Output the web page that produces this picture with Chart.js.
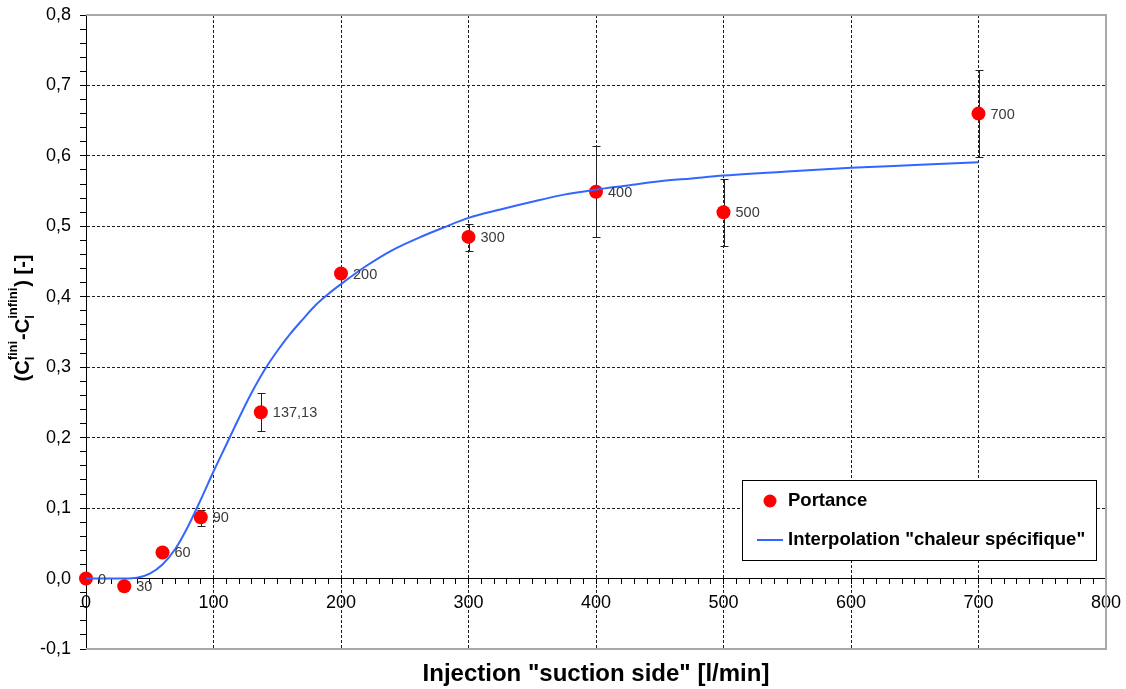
<!DOCTYPE html>
<html>
<head>
<meta charset="utf-8">
<title>Portance vs injection</title>
<script src="https://cdn.jsdelivr.net/npm/chart.js@4.4.1/dist/chart.umd.min.js"></script>
<style>
  html, body { margin: 0; padding: 0; background: #ffffff; }
  #wrap { width: 1126px; height: 689px; position: relative; }
</style>
</head>
<body>
<div id="wrap"><canvas id="c" width="1126" height="689"></canvas></div>
<script>
// Measured lift increment vs. suction-side injection flow
const injection   = [0, 30, 60, 90, 137.13, 200, 300, 400, 500, 700];
const portance    = [0.0, -0.011, 0.037, 0.087, 0.236, 0.433, 0.485, 0.549, 0.520, 0.660];
const errLow      = [null, null, null, 0.075, 0.210, null, 0.465, 0.485, 0.472, 0.598];
const errHigh     = [null, null, null, 0.098, 0.263, null, 0.504, 0.614, 0.567, 0.722];
const pointLabels = ['0', '30', '60', '90', '137,13', '200', '300', '400', '500', '700'];

// "Specific heat" style interpolation curve
const interpX = [0, 10, 20, 30, 40, 50, 60, 70, 80, 90, 100, 110, 120, 130, 140, 150, 160, 170, 180, 190,
                 200, 220, 240, 260, 280, 300, 325, 350, 375, 400, 425, 450, 475, 500, 550, 600, 650, 700];
const interpY = [0, 0, 0, 0, 0.001, 0.007, 0.02, 0.042, 0.074, 0.112, 0.152, 0.19, 0.228, 0.264, 0.296, 0.323,
                 0.347, 0.368, 0.388, 0.404, 0.418, 0.444, 0.466, 0.483, 0.498, 0.512, 0.524, 0.535, 0.545,
                 0.552, 0.558, 0.564, 0.568, 0.572, 0.578, 0.583, 0.587, 0.591];

// Axis tick labels
const xTickLabels = ['0', '100', '200', '300', '400', '500', '600', '700', '800'];
const yTickLabels = ['-0,1', '0,0', '0,1', '0,2', '0,3', '0,4', '0,5', '0,6', '0,7', '0,8'];

const FONT = "'Liberation Sans', Arial, Helvetica, sans-serif";
const GRID = '#1e1e1e';
const RED = '#ff0000';
const BLUE = '#3366ff';

// Grey frame on top / right / bottom of the plot area
const framePlugin = {
  id: 'frame',
  beforeDatasetsDraw(chart) {
    const { ctx, chartArea: a } = chart;
    ctx.save();
    ctx.strokeStyle = '#a8a8a8';
    ctx.lineWidth = 2;
    ctx.beginPath();
    ctx.moveTo(a.left, a.top);
    ctx.lineTo(a.right, a.top);
    ctx.lineTo(a.right, a.bottom);
    ctx.lineTo(a.left, a.bottom);
    ctx.stroke();
    ctx.restore();
  }
};

// Vertical error bars with small caps
const errorBarPlugin = {
  id: 'errorBars',
  beforeDatasetsDraw(chart) {
    const { ctx, scales } = chart;
    ctx.save();
    ctx.strokeStyle = '#222222';
    ctx.lineWidth = 1;
    injection.forEach((x, i) => {
      if (errLow[i] == null || errHigh[i] == null) return;
      const px = Math.round(scales.x.getPixelForValue(x)) + 0.5;
      const y1 = Math.round(scales.y.getPixelForValue(errLow[i])) + 0.5;
      const y2 = Math.round(scales.y.getPixelForValue(errHigh[i])) + 0.5;
      ctx.beginPath();
      ctx.moveTo(px, y1); ctx.lineTo(px, y2);
      ctx.moveTo(px - 4, y1); ctx.lineTo(px + 4, y1);
      ctx.moveTo(px - 4, y2); ctx.lineTo(px + 4, y2);
      ctx.stroke();
    });
    ctx.restore();
  }
};

// Value labels next to each measured point
const pointLabelPlugin = {
  id: 'pointLabels',
  afterDatasetsDraw(chart) {
    const { ctx } = chart;
    const meta = chart.getDatasetMeta(1);
    ctx.save();
    ctx.font = '14.5px ' + FONT;
    ctx.fillStyle = '#3a3a3a';
    ctx.textAlign = 'left';
    ctx.textBaseline = 'middle';
    meta.data.forEach((el, i) => {
      ctx.fillText(pointLabels[i], el.x + 12, el.y + 1);
    });
    ctx.restore();
  }
};

// Rotated y-axis title with sub/superscripts: (Cl^fini - Cl^infini) [-]
const yTitlePlugin = {
  id: 'yTitle',
  afterDraw(chart) {
    const { ctx } = chart;
    const big = 'bold 20px ' + FONT;
    const small = 'bold 13px ' + FONT;
    const parts = [
      { t: '(C' },
      { sub: 'l', sup: 'fini' },
      { t: '-C' },
      { sub: 'l', sup: 'infini' },
      { t: ') [-]' }
    ];
    const widths = parts.map(p => {
      if (p.t) { ctx.font = big; return ctx.measureText(p.t).width; }
      ctx.font = small;
      return Math.max(ctx.measureText(p.sub).width, ctx.measureText(p.sup).width) + 1;
    });
    const total = widths.reduce((s, w) => s + w, 0);
    ctx.save();
    ctx.translate(22, 318);
    ctx.rotate(-Math.PI / 2);
    ctx.fillStyle = '#000000';
    ctx.textAlign = 'left';
    ctx.textBaseline = 'alphabetic';
    let x = -total / 2;
    const base = 7;
    parts.forEach((p, i) => {
      if (p.t) {
        ctx.font = big;
        ctx.fillText(p.t, x, base);
      } else {
        ctx.font = small;
        ctx.fillText(p.sub, x, base + 5);
        ctx.fillText(p.sup, x, base - 12.5);
      }
      x += widths[i];
    });
    ctx.restore();
  }
};

// Boxed legend inside the lower-right part of the plot
const legendPlugin = {
  id: 'legendBox',
  afterDraw(chart) {
    const { ctx } = chart;
    const left = 742, top = 480, right = 1096, bottom = 560;
    ctx.save();
    ctx.fillStyle = '#ffffff';
    ctx.fillRect(left, top, right - left, bottom - top);
    ctx.strokeStyle = '#000000';
    ctx.lineWidth = 1;
    ctx.strokeRect(left + 0.5, top + 0.5, right - left, bottom - top);

    const dsPts = chart.data.datasets[1];
    const dsLine = chart.data.datasets[0];
    ctx.fillStyle = dsPts.backgroundColor;
    ctx.beginPath();
    ctx.arc(770, 501, 6.5, 0, Math.PI * 2);
    ctx.fill();

    ctx.strokeStyle = dsLine.borderColor;
    ctx.lineWidth = 2;
    ctx.beginPath();
    ctx.moveTo(757, 540);
    ctx.lineTo(783, 540);
    ctx.stroke();

    ctx.fillStyle = '#000000';
    ctx.font = 'bold 18.5px ' + FONT;
    ctx.textAlign = 'left';
    ctx.textBaseline = 'middle';
    ctx.fillText(dsPts.label, 788, 501);
    ctx.fillText(dsLine.label, 788, 540);
    ctx.restore();
  }
};

const near = (v, step) => Math.abs(v / step - Math.round(v / step)) < 1e-6;

new Chart(document.getElementById('c'), {
  type: 'scatter',
  data: {
    datasets: [
      {
        label: 'Interpolation "chaleur spécifique"',
        type: 'line',
        data: interpX.map((x, i) => ({ x, y: interpY[i] })),
        borderColor: BLUE,
        backgroundColor: BLUE,
        borderWidth: 2,
        pointRadius: 0,
        cubicInterpolationMode: 'monotone',
        fill: false,
        order: 0
      },
      {
        label: 'Portance',
        data: injection.map((x, i) => ({ x, y: portance[i] })),
        backgroundColor: RED,
        borderColor: RED,
        borderWidth: 0,
        pointRadius: 7,
        showLine: false,
        clip: false,
        order: 1
      }
    ]
  },
  options: {
    responsive: false,
    animation: false,
    devicePixelRatio: 1,
    layout: { padding: { top: 15, right: 20, left: 0, bottom: 0 } },
    plugins: { legend: { display: false }, tooltip: { enabled: false } },
    scales: {
      x: {
        type: 'linear',
        min: 0, max: 800,
        position: { y: 0 },
        afterFit(s) { s.height = 0; s.paddingLeft = 0; s.paddingRight = 0; },
        ticks: {
          stepSize: 10, autoSkip: false, maxRotation: 0, minRotation: 0,
          padding: 9, color: '#000000',
          font: { family: FONT, size: 18 },
          callback(v) { return near(v, 100) ? xTickLabels[Math.round(v / 100)] : ''; }
        },
        grid: {
          color(c) {
            const v = c.tick ? c.tick.value : null;
            return (v != null && near(v, 100) && v > 0 && v < 800) ? GRID : 'rgba(0,0,0,0)';
          },
          lineWidth: 1,
          tickColor: '#000000',
          tickLength: 5,
          tickWidth: 1
        },
        border: { display: true, color: '#000000', width: 1, dash: [3, 2] }
      },
      xTitle: {
        type: 'linear',
        min: 0, max: 800,
        position: 'bottom',
        afterFit(s) { s.height = 40; s.paddingLeft = 0; s.paddingRight = 0; },
        ticks: { display: false },
        grid: { display: false },
        border: { display: false },
        title: {
          display: true,
          text: 'Injection "suction side" [l/min]',
          color: '#000000',
          font: { family: FONT, size: 24, weight: 'bold' },
          padding: 0
        }
      },
      y: {
        type: 'linear',
        min: -0.1, max: 0.8,
        position: 'left',
        afterFit(s) { s.width = 86; s.paddingTop = 0; s.paddingBottom = 0; },
        ticks: {
          stepSize: 0.02, autoSkip: false,
          padding: 9, color: '#000000',
          font: { family: FONT, size: 18 },
          callback(v) {
            const k = Math.round(v * 100);
            return k % 10 === 0 ? yTickLabels[(k + 10) / 10] : '';
          }
        },
        grid: {
          color(c) {
            const v = c.tick ? c.tick.value : null;
            if (v == null) return 'rgba(0,0,0,0)';
            const k = Math.round(v * 100);
            return (k % 10 === 0 && k > 0 && k < 80) ? GRID : 'rgba(0,0,0,0)';
          },
          lineWidth: 1,
          tickColor: '#000000',
          tickLength: 6,
          tickWidth: 1
        },
        border: { display: true, color: '#000000', width: 1, dash: [3, 2] }
      }
    }
  },
  plugins: [framePlugin, errorBarPlugin, pointLabelPlugin, yTitlePlugin, legendPlugin]
});
</script>
</body>
</html>
